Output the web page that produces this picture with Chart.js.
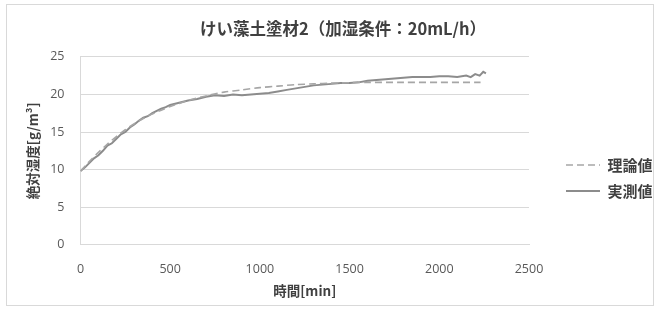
<!DOCTYPE html>
<html><head><meta charset="utf-8">
<script src="https://cdn.jsdelivr.net/npm/chart.js@4.4.0/dist/chart.umd.min.js"></script>
<style>
html,body{margin:0;padding:0;background:#fff;}
#wrap{position:absolute;left:6px;top:4px;width:648px;height:302px;border:1px solid #d9d9d9;box-sizing:border-box;}
canvas{display:block;}
</style></head>
<body>
<div id="wrap"><canvas id="c" width="646" height="300"></canvas></div>
<script>
const titleText = 'けい藻土塗材2（加湿条件：20mL/h）';
const xTitle = '時間[min]';
const yTitle = '絶対湿度[g/m³]';
const seriesNames = ['理論値', '実測値'];
const xTicks = [0, 500, 1000, 1500, 2000, 2500];
const yTicks = [0, 5, 10, 15, 20, 25];

const theoryTime = [0,50,100,150,200,250,300,350,400,450,500,550,600,700,800,900,1000,1100,1200,1300,1400,1500,1600,1800,2000,2230];
const theoryVal  = [9.8,11.1,12.3,13.4,14.4,15.3,16.1,16.8,17.4,17.9,18.4,18.8,19.2,19.8,20.3,20.6,20.9,21.1,21.3,21.4,21.5,21.55,21.6,21.6,21.6,21.6];

const measTime = [0,25,50,75,100,125,150,175,200,225,250,275,300,325,350,375,400,425,450,475,500,550,600,650,700,750,800,850,900,950,1000,1050,1100,1150,1200,1250,1300,1350,1400,1450,1500,1550,1600,1650,1700,1750,1800,1850,1900,1950,2000,2050,2100,2150,2175,2200,2225,2245,2260];
const measVal  = [9.8,10.3,10.9,11.5,11.9,12.5,13.2,13.5,14.1,14.7,15.0,15.6,16.0,16.5,16.9,17.1,17.5,17.8,18.1,18.3,18.6,18.9,19.2,19.4,19.7,19.9,19.8,20.0,19.9,20.0,20.1,20.2,20.4,20.6,20.8,21.0,21.2,21.3,21.4,21.5,21.5,21.6,21.8,21.9,22.0,22.1,22.2,22.3,22.3,22.3,22.4,22.4,22.3,22.5,22.3,22.7,22.5,23.0,22.8];

const toPts = (xs, ys) => xs.map((x, i) => ({x: x, y: ys[i]}));
const jp = '"Noto Sans CJK JP", "Noto Sans", sans-serif';
const num = '"Open Sans", sans-serif';

const spacer = {
  id: 'legendSpacer',
  beforeInit(chart) {
    Chart.layouts.addBox(chart, {
      position: 'right', weight: 10, fullSize: false, options: {},
      width: 0, height: 0, top: 0, left: 0, right: 0, bottom: 0,
      update(maxWidth, maxHeight) { this.width = 26; this.height = maxHeight; },
      isHorizontal() { return false; },
      getPadding() { return {top: 0, left: 0, right: 0, bottom: 0}; },
      draw() {}
    });
  },
  afterLayout(chart) {
    if (chart.legend) { chart.legend.top += 23; chart.legend.bottom += 23; }
  }
};

new Chart(document.getElementById('c'), {
  type: 'scatter',
  data: {
    datasets: [
      {label: seriesNames[0], data: toPts(theoryTime, theoryVal), showLine: true, borderColor: '#a6a6a6', borderWidth: 1.6, borderDash: [7, 4], pointRadius: 0, tension: 0.3},
      {label: seriesNames[1], data: toPts(measTime, measVal), showLine: true, borderColor: '#8c8c8c', borderWidth: 2, pointRadius: 0, tension: 0}
    ]
  },
  plugins: [spacer],
  options: {
    responsive: false,
    animation: false,
    layout: {padding: {left: 18, right: -8, top: 6, bottom: 6}},
    plugins: {
      title: {display: true, text: titleText, color: '#404040', font: {family: jp, size: 16.5, weight: 'bold'}, padding: {top: 8, bottom: 18}},
      legend: {
        position: 'right',
        labels: {
          usePointStyle: true, pointStyle: 'line', pointStyleWidth: 34,
          color: '#404040', font: {family: jp, size: 15, weight: 'bold'}, padding: 11,
          generateLabels: chart => chart.data.datasets.map((ds, i) => ({
            text: ds.label, strokeStyle: ds.borderColor, fillStyle: ds.borderColor,
            lineWidth: ds.borderWidth, lineDash: ds.borderDash || [], pointStyle: 'line',
            datasetIndex: i, hidden: false, fontColor: '#404040'
          }))
        }
      },
      tooltip: {enabled: false}
    },
    scales: {
      x: {
        type: 'linear', min: 0, max: 2500,
        afterBuildTicks: s => { s.ticks = xTicks.map(v => ({value: v})); },
        ticks: {color: '#595959', font: {family: num, size: 12.5}, padding: 17.5, callback: v => String(v)},
        grid: {display: false, drawTicks: false},
        border: {color: '#d9d9d9'},
        title: {display: true, text: xTitle, color: '#404040', font: {family: jp, size: 13.5, weight: 'bold'}, padding: {top: -12, bottom: 0}}
      },
      y: {
        min: 0, max: 25,
        afterBuildTicks: s => { s.ticks = yTicks.map(v => ({value: v})); },
        ticks: {color: '#595959', font: {family: num, size: 12.5}, padding: 16, callback: v => String(v)},
        grid: {color: '#d9d9d9', drawTicks: false},
        border: {color: '#d9d9d9'},
        title: {display: true, text: yTitle, color: '#404040', font: {family: jp, size: 13.5, weight: 'bold'}, padding: {top: 0, bottom: -7}}
      }
    }
  }
});
</script>
</body></html>
